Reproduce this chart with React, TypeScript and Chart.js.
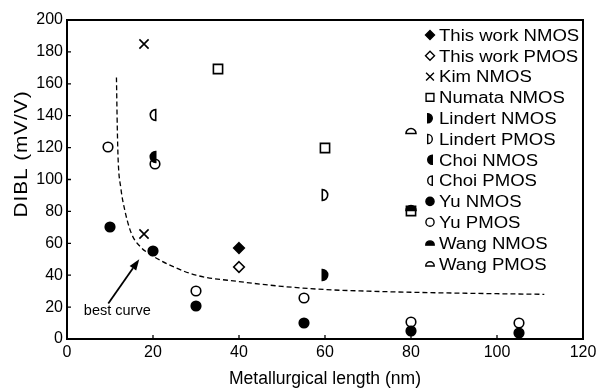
import React, { useEffect, useRef } from 'react';
import { Chart, registerables } from 'chart.js';

Chart.register(...registerables);

// ---------- data ----------
const xTicks = [0, 20, 40, 60, 80, 100, 120];
const yTicks = [0, 20, 40, 60, 80, 100, 120, 140, 160, 180, 200];

const thisWorkNmosX = [40];
const thisWorkNmosY = [57];
const thisWorkPmosX = [40];
const thisWorkPmosY = [45];
const kimNmosX = [18, 18];
const kimNmosY = [185, 66];
const numataNmosX = [35, 60, 80];
const numataNmosY = [169, 120, 80];
const lindertNmosX = [60];
const lindertNmosY = [40];
const lindertPmosX = [60];
const lindertPmosY = [90.5];
const choiNmosX = [20];
const choiNmosY = [114];
const choiPmosX = [20];
const choiPmosY = [140.5];
const yuNmosX = [10, 20, 30, 55, 80, 105];
const yuNmosY = [70.5, 55, 20.5, 10, 5, 4];
const yuPmosX = [9.5, 20.5, 30, 55, 80, 105];
const yuPmosY = [120.5, 110, 30, 25.5, 10.5, 10];
const wangNmosX = [80];
const wangNmosY = [82];
const wangPmosX = [80];
const wangPmosY = [130.5];

// dashed "best curve"
const curveX = [11.5, 11.7, 11.9, 12.5, 13.5, 15, 17, 20, 25, 30, 40, 50, 60, 70, 80, 90, 100, 111];
const curveY = [164, 132, 112, 95, 80, 66, 58, 52, 45, 40, 36, 33, 31, 30, 29.3, 28.8, 28.4, 28];

// annotation (data units)
const arrowTail = { x: 9.6, y: 22.3 };
const arrowHead = { x: 16.8, y: 50 };
const bestCurveLabel = { text: 'best curve', x: 11.7, y: 15 };

const xTitle = 'Metallurgical length (nm)';
const yTitle = 'DIBL (mV/V)';

type Shape = 'diamond' | 'cross' | 'square' | 'halfRight' | 'halfLeft' | 'circle' | 'dome';

const seriesList: { label: string; xs: number[]; ys: number[]; shape: Shape; filled: boolean }[] = [
  { label: 'This work NMOS', xs: thisWorkNmosX, ys: thisWorkNmosY, shape: 'diamond', filled: true },
  { label: 'This work PMOS', xs: thisWorkPmosX, ys: thisWorkPmosY, shape: 'diamond', filled: false },
  { label: 'Kim NMOS', xs: kimNmosX, ys: kimNmosY, shape: 'cross', filled: false },
  { label: 'Numata NMOS', xs: numataNmosX, ys: numataNmosY, shape: 'square', filled: false },
  { label: 'Lindert NMOS', xs: lindertNmosX, ys: lindertNmosY, shape: 'halfRight', filled: true },
  { label: 'Lindert PMOS', xs: lindertPmosX, ys: lindertPmosY, shape: 'halfRight', filled: false },
  { label: 'Choi NMOS', xs: choiNmosX, ys: choiNmosY, shape: 'halfLeft', filled: true },
  { label: 'Choi PMOS', xs: choiPmosX, ys: choiPmosY, shape: 'halfLeft', filled: false },
  { label: 'Yu NMOS', xs: yuNmosX, ys: yuNmosY, shape: 'circle', filled: true },
  { label: 'Yu PMOS', xs: yuPmosX, ys: yuPmosY, shape: 'circle', filled: false },
  { label: 'Wang NMOS', xs: wangNmosX, ys: wangNmosY, shape: 'dome', filled: true },
  { label: 'Wang PMOS', xs: wangPmosX, ys: wangPmosY, shape: 'dome', filled: false },
];

// ---------- styling / layout ----------
const FONT = '"Liberation Sans", Arial, Helvetica, sans-serif';
const W = 602;
const H = 391;

function drawMarker(ctx: CanvasRenderingContext2D, shape: Shape, filled: boolean, cx: number, cy: number, s: number, lw: number) {
  ctx.save();
  ctx.lineWidth = lw;
  ctx.strokeStyle = '#000';
  ctx.fillStyle = '#000';
  ctx.lineJoin = 'miter';
  ctx.beginPath();
  if (shape === 'circle') {
    const r = 4.8 * s;
    ctx.arc(cx, cy, r, 0, Math.PI * 2);
  } else if (shape === 'diamond') {
    const r = 5.3 * s;
    ctx.moveTo(cx, cy - r);
    ctx.lineTo(cx + r, cy);
    ctx.lineTo(cx, cy + r);
    ctx.lineTo(cx - r, cy);
    ctx.closePath();
  } else if (shape === 'square') {
    const r = 4.6 * s;
    ctx.rect(cx - r, cy - r, 2 * r, 2 * r);
  } else if (shape === 'cross') {
    const r = 4.6 * s;
    ctx.moveTo(cx - r, cy - r);
    ctx.lineTo(cx + r, cy + r);
    ctx.moveTo(cx + r, cy - r);
    ctx.lineTo(cx - r, cy + r);
    ctx.stroke();
    ctx.restore();
    return;
  } else if (shape === 'halfRight') {
    const r = 5.4 * s;
    const x0 = cx - r * 0.5;
    ctx.moveTo(x0, cy - r);
    ctx.arc(x0, cy, r, -Math.PI / 2, Math.PI / 2);
    ctx.closePath();
  } else if (shape === 'halfLeft') {
    const r = 5.4 * s;
    const x0 = cx + r * 0.5;
    ctx.moveTo(x0, cy + r);
    ctx.arc(x0, cy, r, Math.PI / 2, (3 * Math.PI) / 2);
    ctx.closePath();
  } else if (shape === 'dome') {
    const r = 5.0 * s;
    const y0 = cy + r * 0.5;
    ctx.moveTo(cx - r, y0);
    ctx.arc(cx, y0, r, Math.PI, 2 * Math.PI);
    ctx.closePath();
  }
  if (filled) ctx.fill();
  ctx.stroke();
  ctx.restore();
}

function makeMarkerCanvas(shape: Shape, filled: boolean): HTMLCanvasElement {
  const c = document.createElement('canvas');
  c.width = 18;
  c.height = 18;
  const ctx = c.getContext('2d')!;
  drawMarker(ctx, shape, filled, 9, 9, 1, 1.6);
  return c;
}

const crispPlugin = {
  id: 'crisp',
  beforeDatasetsDraw(chart: any) {
    chart.ctx.imageSmoothingEnabled = false;
  },
  afterDatasetsDraw(chart: any) {
    chart.ctx.imageSmoothingEnabled = true;
  },
};

const decorPlugin = {
  id: 'decor',
  afterDraw(chart: any) {
    const ctx: CanvasRenderingContext2D = chart.ctx;
    const { left, top, right, bottom } = chart.chartArea;
    const xs = chart.scales.x;
    const ys = chart.scales.y;
    ctx.save();
    // frame
    ctx.strokeStyle = '#000';
    ctx.lineWidth = 2;
    ctx.strokeRect(left, top, right - left, bottom - top);
    // inward tick marks (left and bottom)
    ctx.lineWidth = 1.3;
    ctx.beginPath();
    xTicks.forEach((v) => {
      const px = xs.getPixelForValue(v);
      ctx.moveTo(px, bottom);
      ctx.lineTo(px, bottom - 4);
    });
    yTicks.forEach((v) => {
      const py = ys.getPixelForValue(v);
      ctx.moveTo(left, py);
      ctx.lineTo(left + 4, py);
    });
    ctx.stroke();

    // arrow
    const tx = xs.getPixelForValue(arrowTail.x);
    const ty = ys.getPixelForValue(arrowTail.y);
    const hx = xs.getPixelForValue(arrowHead.x);
    const hy = ys.getPixelForValue(arrowHead.y);
    const ang = Math.atan2(hy - ty, hx - tx);
    const hl = 11;
    const hw = 4;
    const bx = hx - hl * Math.cos(ang);
    const by = hy - hl * Math.sin(ang);
    ctx.lineWidth = 1.8;
    ctx.beginPath();
    ctx.moveTo(tx, ty);
    ctx.lineTo(bx, by);
    ctx.stroke();
    ctx.beginPath();
    ctx.moveTo(hx, hy);
    ctx.lineTo(bx + hw * Math.sin(ang), by - hw * Math.cos(ang));
    ctx.lineTo(bx - hw * Math.sin(ang), by + hw * Math.cos(ang));
    ctx.closePath();
    ctx.fillStyle = '#000';
    ctx.fill();

    // annotation text
    ctx.fillStyle = '#000';
    ctx.font = `14.5px ${FONT}`;
    ctx.textAlign = 'center';
    ctx.textBaseline = 'alphabetic';
    ctx.fillText(bestCurveLabel.text, xs.getPixelForValue(bestCurveLabel.x), ys.getPixelForValue(bestCurveLabel.y));

    // legend
    const legendMarkerX = 430;
    const legendTextX = 439;
    const legendY0 = 35;
    const legendStep = 20.8;
    ctx.font = `16px ${FONT}`;
    ctx.textAlign = 'left';
    seriesList.forEach((s, i) => {
      const cy = legendY0 + i * legendStep;
      drawMarker(ctx, s.shape, s.filled, legendMarkerX, cy, 0.85, 1.4);
      ctx.save();
      ctx.translate(legendTextX, cy + 5.8);
      ctx.scale(1.16, 1);
      ctx.fillText(s.label, 0, 0);
      ctx.restore();
    });

    // x title
    ctx.font = `18px ${FONT}`;
    ctx.textAlign = 'center';
    {
      const m = ctx.measureText(xTitle).width;
      ctx.save();
      ctx.translate((left + right) / 2, 384);
      ctx.scale(192 / m, 1);
      ctx.fillText(xTitle, 0, 0);
      ctx.restore();
    }
    // y title
    ctx.font = `18px ${FONT}`;
    {
      try {
        (ctx as any).letterSpacing = '0.8px';
      } catch (e) {}
      const m = ctx.measureText(yTitle).width;
      ctx.save();
      ctx.translate(27, 154);
      ctx.rotate(-Math.PI / 2);
      ctx.scale(127 / m, 1);
      ctx.fillText(yTitle, 0, 0);
      ctx.restore();
      try {
        (ctx as any).letterSpacing = '0px';
      } catch (e) {}
    }
    ctx.restore();
  },
};

export default function App() {
  const ref = useRef<HTMLCanvasElement | null>(null);
  useEffect(() => {
    if (!ref.current) return;
    const datasets: any[] = seriesList.map((s) => ({
      label: s.label,
      data: s.xs.map((x, i) => ({ x, y: s.ys[i] })),
      pointStyle: makeMarkerCanvas(s.shape, s.filled),
      pointRadius: 6,
      showLine: false,
      clip: false,
    }));
    datasets.push({
      label: 'best curve',
      data: curveX.map((x, i) => ({ x, y: curveY[i] })),
      showLine: true,
      borderColor: '#000',
      borderWidth: 1.3,
      borderDash: [5, 3],
      pointRadius: 0,
      cubicInterpolationMode: 'monotone',
      fill: false,
      clip: false,
    });
    const chart = new Chart(ref.current, {
      type: 'scatter',
      data: { datasets },
      options: {
        responsive: false,
        animation: false,
        layout: { padding: { top: 20, right: 19, left: 0, bottom: 0 } },
        plugins: {
          legend: { display: false },
          tooltip: { enabled: false },
          title: { display: false },
        },
        scales: {
          x: {
            type: 'linear',
            min: 0,
            max: 120,
            afterBuildTicks: (s: any) => {
              s.ticks = xTicks.map((v) => ({ value: v }));
            },
            afterFit: (s: any) => {
              s.height = 52;
            },
            grid: { display: false, drawTicks: false },
            border: { display: false },
            ticks: {
              color: '#000',
              font: { family: FONT, size: 16 },
              padding: 4,
              autoSkip: false,
              maxRotation: 0,
            },
          },
          y: {
            type: 'linear',
            min: 0,
            max: 200,
            afterBuildTicks: (s: any) => {
              s.ticks = yTicks.map((v) => ({ value: v }));
            },
            afterFit: (s: any) => {
              s.width = 67;
            },
            grid: { display: false, drawTicks: false },
            border: { display: false },
            ticks: {
              color: '#000',
              font: { family: FONT, size: 16 },
              padding: 4,
              autoSkip: false,
            },
          },
        },
      },
      plugins: [crispPlugin, decorPlugin],
    });
    return () => chart.destroy();
  }, []);
  return (
    <div style={{ position: 'fixed', left: 0, top: 0, width: W, height: H, background: '#fff' }}>
      <canvas ref={ref} width={W} height={H} style={{ display: 'block', width: W, height: H }} />
    </div>
  );
}
